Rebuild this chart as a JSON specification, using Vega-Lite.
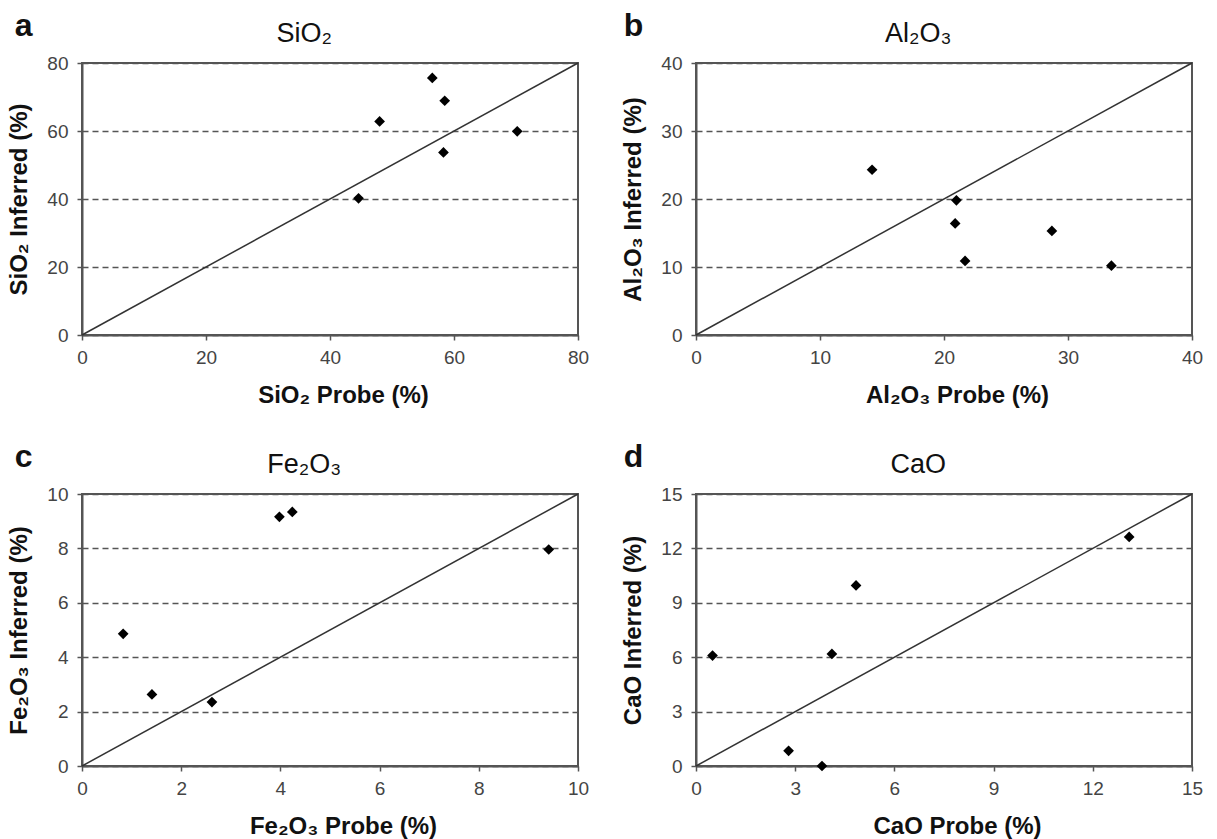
{
  "$schema": "https://vega.github.io/schema/vega-lite/v6.json",
  "background": "white",
  "padding": {"left": 6, "top": 10, "right": 5, "bottom": 0},
  "columns": 2,
  "spacing": {"column": 30, "row": 33},
  "concat": [
    {
      "title": {"text": "a", "anchor": "start", "frame": "bounds", "fontSize": 32, "fontWeight": "bold", "offset": -24, "dx": 8},
      "vconcat": [
        {
          "title": {"text": "SiO₂"},
          "width": 496, "height": 272,
          "layer": [
            {
              "data": {"values": [{"probe": 0, "inferred": 0}, {"probe": 80, "inferred": 80}]},
              "mark": {"type": "line", "color": "#333", "strokeWidth": 1.5},
              "encoding": {
                "x": {"field": "probe", "type": "quantitative", "scale": {"domain": [0, 80], "nice": false}, "axis": {"values": [0, 20, 40, 60, 80], "title": "SiO₂ Probe (%)"}},
                "y": {"field": "inferred", "type": "quantitative", "scale": {"domain": [0, 80], "nice": false}, "axis": {"values": [0, 20, 40, 60, 80], "title": "SiO₂ Inferred (%)"}}
              }
            },
            {
              "data": {"values": [
                {"probe": 56.5, "inferred": 75.6},
                {"probe": 58.5, "inferred": 68.9},
                {"probe": 48.0, "inferred": 62.8},
                {"probe": 70.2, "inferred": 59.9},
                {"probe": 58.3, "inferred": 53.7},
                {"probe": 44.6, "inferred": 40.2}
              ]},
              "mark": {"type": "point", "shape": "diamond", "filled": true, "color": "#000", "size": 115, "opacity": 1},
              "encoding": {
                "x": {"field": "probe", "type": "quantitative", "scale": {"domain": [0, 80], "nice": false}, "axis": {"values": [0, 20, 40, 60, 80], "title": "SiO₂ Probe (%)"}},
                "y": {"field": "inferred", "type": "quantitative", "scale": {"domain": [0, 80], "nice": false}, "axis": {"values": [0, 20, 40, 60, 80], "title": "SiO₂ Inferred (%)"}}
              }
            }
          ]
        }
      ]
    },
    {
      "title": {"text": "b", "anchor": "start", "frame": "bounds", "fontSize": 32, "fontWeight": "bold", "offset": -24, "dx": 3},
      "vconcat": [
        {
          "title": {"text": "Al₂O₃"},
          "width": 496, "height": 272,
          "layer": [
            {
              "data": {"values": [{"probe": 0, "inferred": 0}, {"probe": 40, "inferred": 40}]},
              "mark": {"type": "line", "color": "#333", "strokeWidth": 1.5},
              "encoding": {
                "x": {"field": "probe", "type": "quantitative", "scale": {"domain": [0, 40], "nice": false}, "axis": {"values": [0, 10, 20, 30, 40], "title": "Al₂O₃ Probe (%)"}},
                "y": {"field": "inferred", "type": "quantitative", "scale": {"domain": [0, 40], "nice": false}, "axis": {"values": [0, 10, 20, 30, 40], "title": "Al₂O₃ Inferred (%)"}}
              }
            },
            {
              "data": {"values": [
                {"probe": 14.2, "inferred": 24.3},
                {"probe": 21.0, "inferred": 19.8},
                {"probe": 20.9, "inferred": 16.4},
                {"probe": 28.7, "inferred": 15.3},
                {"probe": 21.7, "inferred": 10.9},
                {"probe": 33.5, "inferred": 10.2}
              ]},
              "mark": {"type": "point", "shape": "diamond", "filled": true, "color": "#000", "size": 115, "opacity": 1},
              "encoding": {
                "x": {"field": "probe", "type": "quantitative", "scale": {"domain": [0, 40], "nice": false}, "axis": {"values": [0, 10, 20, 30, 40], "title": "Al₂O₃ Probe (%)"}},
                "y": {"field": "inferred", "type": "quantitative", "scale": {"domain": [0, 40], "nice": false}, "axis": {"values": [0, 10, 20, 30, 40], "title": "Al₂O₃ Inferred (%)"}}
              }
            }
          ]
        }
      ]
    },
    {
      "title": {"text": "c", "anchor": "start", "frame": "bounds", "fontSize": 32, "fontWeight": "bold", "offset": -24, "dx": 8},
      "vconcat": [
        {
          "title": {"text": "Fe₂O₃"},
          "width": 496, "height": 272,
          "layer": [
            {
              "data": {"values": [{"probe": 0, "inferred": 0}, {"probe": 10, "inferred": 10}]},
              "mark": {"type": "line", "color": "#333", "strokeWidth": 1.5},
              "encoding": {
                "x": {"field": "probe", "type": "quantitative", "scale": {"domain": [0, 10], "nice": false}, "axis": {"values": [0, 2, 4, 6, 8, 10], "title": "Fe₂O₃ Probe (%)"}},
                "y": {"field": "inferred", "type": "quantitative", "scale": {"domain": [0, 10], "nice": false}, "axis": {"values": [0, 2, 4, 6, 8, 10], "title": "Fe₂O₃ Inferred (%)"}}
              }
            },
            {
              "data": {"values": [
                {"probe": 3.98, "inferred": 9.16},
                {"probe": 4.24, "inferred": 9.34},
                {"probe": 9.41, "inferred": 7.96},
                {"probe": 0.83, "inferred": 4.86},
                {"probe": 1.41, "inferred": 2.63},
                {"probe": 2.62, "inferred": 2.35}
              ]},
              "mark": {"type": "point", "shape": "diamond", "filled": true, "color": "#000", "size": 115, "opacity": 1},
              "encoding": {
                "x": {"field": "probe", "type": "quantitative", "scale": {"domain": [0, 10], "nice": false}, "axis": {"values": [0, 2, 4, 6, 8, 10], "title": "Fe₂O₃ Probe (%)"}},
                "y": {"field": "inferred", "type": "quantitative", "scale": {"domain": [0, 10], "nice": false}, "axis": {"values": [0, 2, 4, 6, 8, 10], "title": "Fe₂O₃ Inferred (%)"}}
              }
            }
          ]
        }
      ]
    },
    {
      "title": {"text": "d", "anchor": "start", "frame": "bounds", "fontSize": 32, "fontWeight": "bold", "offset": -24, "dx": 3},
      "vconcat": [
        {
          "title": {"text": "CaO"},
          "width": 496, "height": 272,
          "layer": [
            {
              "data": {"values": [{"probe": 0, "inferred": 0}, {"probe": 15, "inferred": 15}]},
              "mark": {"type": "line", "color": "#333", "strokeWidth": 1.5},
              "encoding": {
                "x": {"field": "probe", "type": "quantitative", "scale": {"domain": [0, 15], "nice": false}, "axis": {"values": [0, 3, 6, 9, 12, 15], "title": "CaO Probe (%)"}},
                "y": {"field": "inferred", "type": "quantitative", "scale": {"domain": [0, 15], "nice": false}, "axis": {"values": [0, 3, 6, 9, 12, 15], "title": "CaO Inferred (%)"}}
              }
            },
            {
              "data": {"values": [
                {"probe": 13.1, "inferred": 12.63},
                {"probe": 4.84, "inferred": 9.96},
                {"probe": 0.5, "inferred": 6.09},
                {"probe": 4.11, "inferred": 6.18},
                {"probe": 2.8, "inferred": 0.84},
                {"probe": 3.81, "inferred": 0.0}
              ]},
              "mark": {"type": "point", "shape": "diamond", "filled": true, "color": "#000", "size": 115, "opacity": 1},
              "encoding": {
                "x": {"field": "probe", "type": "quantitative", "scale": {"domain": [0, 15], "nice": false}, "axis": {"values": [0, 3, 6, 9, 12, 15], "title": "CaO Probe (%)"}},
                "y": {"field": "inferred", "type": "quantitative", "scale": {"domain": [0, 15], "nice": false}, "axis": {"values": [0, 3, 6, 9, 12, 15], "title": "CaO Inferred (%)"}}
              }
            }
          ]
        }
      ]
    }
  ],
  "config": {
    "font": "Liberation Sans",
    "view": {"stroke": "#555", "strokeWidth": 2},
    "axis": {
      "labelFont": "Liberation Sans", "labelFontSize": 19, "labelColor": "#444",
      "titleFont": "Liberation Sans", "titleFontSize": 24, "titleFontWeight": "bold", "titleColor": "#111",
      "tickColor": "#555", "tickSize": 5, "tickWidth": 1.5,
      "domainColor": "#555", "domainWidth": 2,
      "grid": false, "labelPadding": 9, "labelFlush": false, "labelOverlap": false
    },
    "axisY": {"grid": true, "gridDash": [6, 4], "gridColor": "#555", "gridWidth": 1.5, "titlePadding": 15, "labelPadding": 9},
    "axisX": {"titlePadding": 16, "labelPadding": 8, "titleX": 261},
    "title": {"font": "Liberation Sans", "fontSize": 27, "fontWeight": "normal", "color": "#111", "offset": 6, "anchor": "middle", "frame": "bounds", "dx": 6}
  }
}
